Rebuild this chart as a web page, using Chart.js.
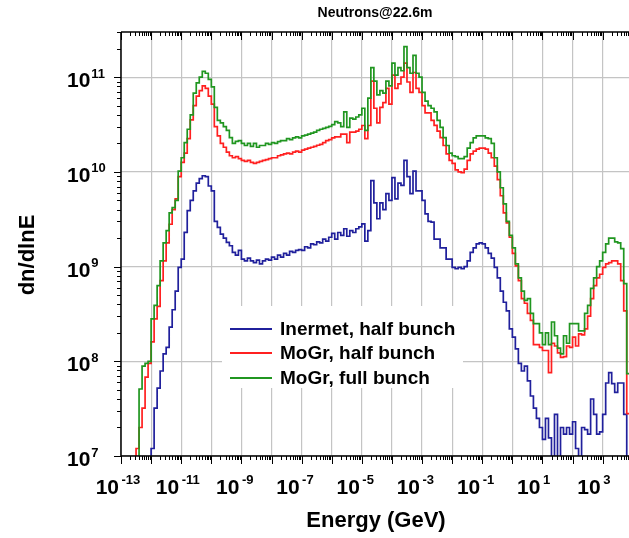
<!DOCTYPE html>
<html>
<head>
<meta charset="utf-8">
<title>Neutrons@22.6m</title>
<script src="https://cdn.jsdelivr.net/npm/chart.js@4/dist/chart.umd.min.js"></script>
<style>
body { margin: 0; background: #fff; }
canvas { display: block; }
</style>
</head>
<body>
<canvas id="neutronChart" width="629" height="538"></canvas>
<script>
// ビンの設定（1桁あたり10ビン、最初のビンの下端は 10^-12.6 GeV）
const firstEdgeExp = -12.6;
const binsPerDecade = 10;

// 系列名
const seriesLabels = ['Inermet, half bunch', 'MoGr, half bunch', 'MoGr, full bunch'];

// 各ビンの dn/dlnE（null = データなし、1e6 = グラフ下端より下）
const inermetHalf = [
    null, null, null, null, null, 1e6, 1.2e7, 3.2e7, 5.2e7, 7.9e7,
    1.2e8, 1.4e8, 2.3e8, 3.5e8, 5.5e8, 9.8e8, 1.2e9, 2.3e9, 3.9e9, 5.0e9,
    6.3e9, 7.6e9, 8.5e9, 9.1e9, 8.9e9, 7.1e9, 6.3e9, 3.0e9, 2.6e9, 2.2e9,
    2.0e9, 1.8e9, 1.66e9, 1.41e9, 1.32e9, 1.48e9, 1.2e9, 1.15e9, 1.23e9, 1.15e9,
    1.1e9, 1.17e9, 1.07e9, 1.15e9, 1.2e9, 1.17e9, 1.26e9, 1.2e9, 1.32e9, 1.26e9,
    1.38e9, 1.32e9, 1.45e9, 1.41e9, 1.48e9, 1.51e9, 1.48e9, 1.62e9, 1.58e9, 1.74e9,
    1.7e9, 1.82e9, 1.78e9, 1.95e9, 1.86e9, 2.04e9, 2.24e9, 1.95e9, 2.29e9, 2.14e9,
    2.51e9, 2.09e9, 2.4e9, 2.29e9, 2.51e9, 2.63e9, 2.82e9, 1.86e9, 2.4e9, 8.1e9,
    4.7e9, 3.2e9, 4.7e9, 4.0e9, 5.9e9, 5.0e9, 8.7e9, 5.2e9, 7.6e9, 7.2e9,
    1.32e10, 8.9e9, 5.9e9, 1.02e10, 6.3e9, 6.3e9, 5.0e9, 3.6e9, 3.0e9, 2.95e9,
    1.95e9, 1.95e9, 1.58e9, 1.58e9, 1.2e9, 1.2e9, 9.8e8, 9.5e8, 9.8e8, 9.5e8,
    1.0e9, 1.15e9, 1.41e9, 1.58e9, 1.74e9, 1.78e9, 1.74e9, 1.58e9, 1.38e9, 1.23e9,
    9.8e8, 7.6e8, 5.5e8, 4.2e8, 3.4e8, 2.2e8, 1.8e8, 1.35e8, 9.5e7, 7.9e7,
    8.9e7, 6.2e7, 4.3e7, 3.2e7, 2.5e7, 2.0e7, 1.5e7, 2.5e7, 1.55e7, 1e6,
    2.75e7, 1e6, 2.0e7, 1.7e7, 2.0e7, 1.7e7, 2.3e7, 1.2e7, 1e6, 2.0e7,
    1.9e7, 1.7e7, 4.0e7, 2.75e7, 1.7e7, 1.8e7, 2.75e7, 5.9e7, 7.6e7, 5.8e7,
    4.7e7, 5.9e7, 5.9e7, 2.75e7, 1e6
];
const mogrHalf = [
    1e6, 1.2e7, 2.0e7, 3.2e7, 6.8e7, 9.5e7, 1.6e8, 2.8e8, 3.8e8, 7.1e8,
    1.15e9, 1.78e9, 2.8e9, 4.0e9, 5.2e9, 8.9e9, 1.26e10, 1.58e10, 2.24e10, 3.55e10,
    5.0e10, 6.3e10, 7.2e10, 8.1e10, 7.6e10, 6.3e10, 5.2e10, 3.0e10, 2.4e10, 2.0e10,
    1.82e10, 1.62e10, 1.48e10, 1.41e10, 1.45e10, 1.38e10, 1.32e10, 1.29e10, 1.32e10, 1.26e10,
    1.23e10, 1.26e10, 1.29e10, 1.32e10, 1.35e10, 1.38e10, 1.41e10, 1.41e10, 1.48e10, 1.51e10,
    1.55e10, 1.58e10, 1.55e10, 1.62e10, 1.66e10, 1.62e10, 1.7e10, 1.74e10, 1.78e10, 1.82e10,
    1.86e10, 1.91e10, 1.95e10, 2.04e10, 2.14e10, 2.19e10, 2.29e10, 2.34e10, 2.34e10, 2.51e10,
    2.51e10, 2.04e10, 2.63e10, 2.63e10, 2.69e10, 2.82e10, 3.09e10, 2.24e10, 3.09e10, 9.1e10,
    4.7e10, 3.3e10, 4.8e10, 5.4e10, 7.6e10, 5.2e10, 1.05e11, 7.6e10, 8.5e10, 1.0e11,
    1.41e11, 8.9e10, 6.9e10, 1.12e11, 7.6e10, 6.9e10, 5.0e10, 4.2e10, 4.2e10, 3.5e10,
    3.1e10, 2.7e10, 2.3e10, 1.9e10, 1.55e10, 1.32e10, 1.23e10, 1.05e10, 1.0e10, 9.8e9,
    1.07e10, 1.32e10, 1.55e10, 1.66e10, 1.74e10, 1.78e10, 1.78e10, 1.74e10, 1.58e10, 1.41e10,
    1.15e10, 8.3e9, 5.6e9, 3.7e9, 2.9e9, 2.04e9, 1.38e9, 1.02e9, 7.1e8, 4.6e8,
    4.1e8, 3.2e8, 2.7e8, 1.5e8, 1.5e8, 1.4e8, 1.3e8, 1.3e8, 7.6e7, 1.55e8,
    1.45e8, 1.23e8, 1.1e8, 1.12e8, 1.45e8, 1.4e8, 1.8e8, 1.45e8, 1.95e8, 1.9e8,
    2.2e8, 3.0e8, 4.6e8, 6.3e8, 7.6e8, 8.3e8, 9.8e8, 1.07e9, 1.1e9, 1.15e9,
    1.15e9, 1.07e9, 7.1e8, 3.4e8, 2.8e7
];
const mogrFull = [
    null, 1e6, 5.1e7, 8.9e7, 9.5e7, 1.0e8, 2.8e8, 3.9e8, 6.3e8, 1.15e9,
    1.78e9, 2.4e9, 3.7e9, 4.2e9, 5.0e9, 1.02e10, 1.41e10, 2.04e10, 2.82e10, 4.0e10,
    6.8e10, 8.7e10, 1.0e11, 1.15e11, 1.1e11, 9.5e10, 7.9e10, 4.8e10, 3.5e10, 3.3e10,
    3.0e10, 2.75e10, 2.3e10, 2.0e10, 2.1e10, 2.14e10, 2.0e10, 1.9e10, 2.0e10, 1.86e10,
    2.0e10, 1.82e10, 1.9e10, 1.9e10, 2.0e10, 1.95e10, 2.04e10, 2.0e10, 2.09e10, 2.14e10,
    2.14e10, 2.24e10, 2.19e10, 2.29e10, 2.34e10, 2.29e10, 2.4e10, 2.45e10, 2.51e10, 2.57e10,
    2.63e10, 2.75e10, 2.82e10, 2.88e10, 2.95e10, 3.02e10, 3.16e10, 3.4e10, 3.3e10, 3.0e10,
    4.3e10, 2.95e10, 3.7e10, 3.6e10, 3.8e10, 4.0e10, 4.7e10, 2.75e10, 6.0e10, 1.26e11,
    9.1e10, 6.5e10, 7.2e10, 6.8e10, 9.1e10, 8.1e10, 1.41e11, 1.05e11, 1.26e11, 1.17e11,
    2.1e11, 1.26e11, 1.1e11, 1.7e11, 1.1e11, 1.0e11, 6.9e10, 5.6e10, 5.0e10, 4.7e10,
    4.3e10, 3.5e10, 2.95e10, 2.3e10, 1.9e10, 1.58e10, 1.48e10, 1.45e10, 1.38e10, 1.38e10,
    1.45e10, 1.78e10, 2.04e10, 2.29e10, 2.4e10, 2.4e10, 2.4e10, 2.29e10, 2.24e10, 2.0e10,
    1.41e10, 1.0e10, 6.8e9, 4.6e9, 3.0e9, 2.14e9, 1.58e9, 1.07e9, 7.6e8, 5.5e8,
    4.4e8, 4.6e8, 3.2e8, 2.5e8, 2.5e8, 2.0e8, 1.5e8, 2.0e8, 1.5e8, 2.6e8,
    1.86e8, 1.38e8, 1.2e8, 1.86e8, 1.55e8, 2.5e8, 2.5e8, 2.5e8, 2.1e8, 2.1e8,
    3.2e8, 3.9e8, 5.9e8, 7.6e8, 1.0e9, 1.15e9, 1.41e9, 1.74e9, 2.0e9, 2.0e9,
    1.82e9, 1.78e9, 1.55e9, 6.6e8, 7.4e7
];

// 目盛りラベル（10 の指数）
const xTickExps = [-13, -11, -9, -7, -5, -3, -1, 1, 3];
const yTickExps = [7, 8, 9, 10, 11];

// 線の色
const seriesColors = ['#20209c', '#ff2020', '#209620'];

const FONT = '"Liberation Sans", Arial, sans-serif';

// ビンの境界（下端）を作る
const binEdges = [];
for (let i = 0; i <= inermetHalf.length; i++) {
    binEdges.push(Math.pow(10, firstEdgeExp + i / binsPerDecade));
}

// ヒストグラム用の点列（左端に値を置き、最後に右端を追加）
function toSteps(values) {
    const pts = values.map((v, i) => ({ x: binEdges[i], y: v }));
    pts.push({ x: binEdges[values.length], y: values[values.length - 1] });
    return pts;
}

// Origin 風の軸・目盛り・文字を描くプラグイン
const originStyle = {
    id: 'originStyle',
    beforeDatasetsDraw(chart) {
        // 凡例の白い背景（グリッド線を隠す）
        const ctx = chart.ctx;
        ctx.save();
        ctx.fillStyle = '#fff';
        ctx.fillRect(222, 306, 241, 82);
        ctx.restore();
    },
    afterDraw(chart) {
        const ctx = chart.ctx;
        const xs = chart.scales.x;
        const ys = chart.scales.y;
        const area = chart.chartArea;
        ctx.save();

        // 枠線（左・上・下）
        ctx.strokeStyle = '#000';
        ctx.lineWidth = 1.5;
        ctx.beginPath();
        ctx.moveTo(area.left, area.top);
        ctx.lineTo(area.right, area.top);
        ctx.moveTo(area.left, area.top);
        ctx.lineTo(area.left, area.bottom);
        ctx.moveTo(area.left, area.bottom);
        ctx.lineTo(area.right, area.bottom);
        ctx.stroke();

        // x 軸の目盛り（下は外向き、上は内向き）
        ctx.lineWidth = 1;
        ctx.beginPath();
        for (let e = -13; e <= 3; e++) {
            for (let m = 1; m <= 9; m++) {
                const v = m * Math.pow(10, e);
                if (v > xs.max) break;
                const px = Math.round(xs.getPixelForValue(v)) + 0.5;
                const len = m === 1 ? 8 : 4;
                ctx.moveTo(px, area.bottom);
                ctx.lineTo(px, area.bottom + len);
                ctx.moveTo(px, area.top);
                ctx.lineTo(px, area.top + len);
            }
        }
        // y 軸の目盛り
        for (let e = 7; e <= 11; e++) {
            for (let m = 1; m <= 9; m++) {
                const v = m * Math.pow(10, e);
                if (v > ys.max) break;
                const py = Math.round(ys.getPixelForValue(v)) + 0.5;
                const len = m === 1 ? 7 : 4;
                ctx.moveTo(area.left - len, py);
                ctx.lineTo(area.left, py);
            }
        }
        ctx.stroke();

        // 目盛りラベル 10^n
        ctx.fillStyle = '#000';
        ctx.textBaseline = 'alphabetic';
        xTickExps.forEach(e => {
            const px = xs.getPixelForValue(Math.pow(10, e));
            ctx.font = 'bold 21px ' + FONT;
            ctx.textAlign = 'right';
            ctx.fillText('10', px - 2, 494);
            ctx.font = 'bold 13px ' + FONT;
            ctx.textAlign = 'left';
            ctx.fillText(String(e), px + 0.5, 484);
        });
        yTickExps.forEach(e => {
            const py = ys.getPixelForValue(Math.pow(10, e));
            ctx.font = 'bold 21px ' + FONT;
            ctx.textAlign = 'left';
            ctx.fillText('10', 67, py + 10);
            const w = ctx.measureText('10').width;
            ctx.font = 'bold 13px ' + FONT;
            ctx.fillText(String(e), 67 + w + 1, py + 0.5);
        });

        // タイトルと軸タイトル
        ctx.textAlign = 'center';
        ctx.textBaseline = 'middle';
        ctx.font = 'bold 14px ' + FONT;
        ctx.fillText('Neutrons@22.6m', 375, 13);
        ctx.font = 'bold 22px ' + FONT;
        ctx.fillText('Energy (GeV)', 376, 521);
        ctx.save();
        ctx.translate(28, 255);
        ctx.rotate(-Math.PI / 2);
        ctx.fillText('dn/dlnE', 0, 0);
        ctx.restore();

        // 凡例
        const rows = [329, 353, 378];
        ctx.font = 'bold 19px ' + FONT;
        ctx.textAlign = 'left';
        seriesLabels.forEach((label, i) => {
            ctx.strokeStyle = seriesColors[i];
            ctx.lineWidth = 2;
            ctx.beginPath();
            ctx.moveTo(230, rows[i]);
            ctx.lineTo(272, rows[i]);
            ctx.stroke();
            ctx.fillStyle = '#000';
            ctx.fillText(label, 280, rows[i] + 1);
        });

        ctx.restore();
    }
};

const seriesData = [inermetHalf, mogrHalf, mogrFull];

new Chart(document.getElementById('neutronChart'), {
    type: 'line',
    data: {
        datasets: seriesData.map((values, i) => ({
            label: seriesLabels[i],
            data: toSteps(values),
            borderColor: seriesColors[i],
            borderWidth: 1.7,
            stepped: true,
            pointRadius: 0,
            fill: false,
            order: 2 - i // 緑を一番上に描く
        }))
    },
    options: {
        responsive: false,
        animation: false,
        layout: { padding: { top: 32, right: 0, bottom: 0, left: 0 } },
        plugins: {
            legend: { display: false },
            title: { display: false },
            tooltip: { enabled: false }
        },
        scales: {
            x: {
                type: 'logarithmic',
                min: 1e-13,
                max: 7.5e3,
                ticks: { display: false },
                grid: { color: '#c4c4c4', lineWidth: 1.2, drawTicks: false },
                border: { display: false },
                afterBuildTicks: s => {
                    const t = [];
                    for (let e = -13; e <= 3; e++) t.push({ value: Math.pow(10, e) });
                    s.ticks = t;
                },
                afterFit: s => { s.height = 82; }
            },
            y: {
                type: 'logarithmic',
                min: 1e7,
                max: 3e11,
                ticks: { display: false },
                grid: { color: '#c4c4c4', lineWidth: 1.2, drawTicks: false },
                border: { display: false },
                afterBuildTicks: s => {
                    s.ticks = yTickExps.map(e => ({ value: Math.pow(10, e) }));
                },
                afterFit: s => { s.width = 121; }
            }
        }
    },
    plugins: [originStyle]
});
</script>
</body>
</html>
